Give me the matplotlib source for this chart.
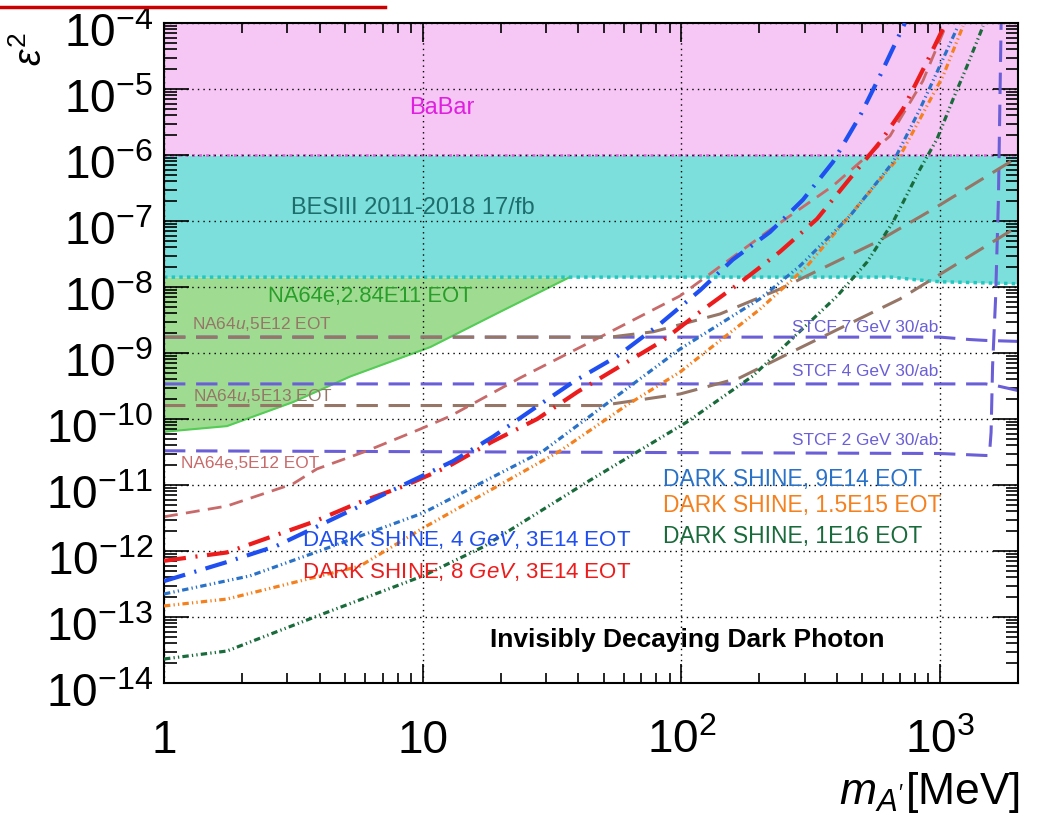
import matplotlib
matplotlib.use('Agg')
import matplotlib.pyplot as plt
from matplotlib.ticker import FixedLocator, LogLocator, NullFormatter, FixedFormatter
from matplotlib.lines import Line2D
from matplotlib.transforms import ScaledTranslation

plt.rcParams['font.family'] = ['Liberation Sans', 'DejaVu Sans']
plt.rcParams['mathtext.fontset'] = 'custom'
plt.rcParams['mathtext.rm'] = 'Liberation Sans'
plt.rcParams['mathtext.it'] = 'Liberation Sans:italic'
plt.rcParams['mathtext.bf'] = 'Liberation Sans:bold'

# ---------------- data ----------------
babar_mass = [1, 2000]
babar_low = [1e-6, 1e-6]
babar_high = [1e-4, 1e-4]

besiii_mass = [1, 650, 800, 1000, 2000]
besiii_low = [1.41e-8, 1.41e-8, 1.29e-8, 1.2e-8, 1.12e-8]
besiii_high = [1e-6, 1e-6, 1e-6, 1e-6, 1e-6]

na64e_284_mass = [1, 1.75, 3.15, 5.24, 10.7, 19.9, 37]
na64e_284_eps2 = [6.4e-11, 7.8e-11, 1.8e-10, 4.4e-10, 1.23e-9, 4.2e-9, 1.41e-8]
na64e_284_top = [1.41e-8, 1.41e-8, 1.41e-8, 1.41e-8, 1.41e-8, 1.41e-8, 1.41e-8]

na64e_5e12_mass = [1, 1.75, 3.15, 3.9, 6.1, 9.75, 12.8, 23.8, 48.6, 98.6, 214, 385, 640, 857, 1040]
na64e_5e12_eps2 = [3.3e-12, 4.8e-12, 1.04e-11, 1.75e-11, 3.3e-11, 7.0e-11, 1.11e-10, 4.2e-10,
                   1.75e-9, 7.3e-9, 6.8e-8, 3.4e-7, 1.94e-6, 1.32e-5, 8.1e-5]

na64mu_5e12_mass = [1, 53, 78, 141, 240, 568, 936, 2000]
na64mu_5e12_eps2 = [1.74e-9, 1.74e-9, 2.1e-9, 3.9e-9, 9.3e-9, 4.8e-8, 1.5e-7, 9.3e-7]

na64mu_5e13_mass = [1, 49, 99, 168, 288, 700, 2000]
na64mu_5e13_eps2 = [1.6e-10, 1.6e-10, 2.4e-10, 4.2e-10, 1.2e-9, 6.6e-9, 8.3e-8]

stcf7_mass = [1, 1000, 1300, 1500, 2000]
stcf7_eps2 = [1.74e-9, 1.74e-9, 1.6e-9, 1.55e-9, 1.5e-9]

stcf4_mass = [1, 1500, 1650, 2000]
stcf4_eps2 = [3.4e-10, 3.4e-10, 3.2e-10, 2.7e-10]

stcf2_mass = [1, 1000, 1500, 1550, 1574, 1595, 1638, 1680, 1720, 1740]
stcf2_eps2 = [3.3e-11, 3.0e-11, 2.8e-11, 2.8e-11, 6.3e-11, 6.3e-10, 6.6e-9, 2.1e-7, 8.9e-5, 3e-4]

ds4_mass = [1, 1.75, 2.73, 5.72, 8.93, 13.1, 18.7, 26.7, 38.8, 56.4, 82.6, 118, 158, 220, 295, 385, 490, 586, 731]
ds4_eps2 = [3.5e-13, 6.8e-13, 1.2e-12, 4.8e-12, 1.12e-11, 2.3e-11, 5.4e-11, 1.41e-10, 3.8e-10,
            8.9e-10, 2.75e-9, 8.9e-9, 2.6e-8, 6.8e-8, 2.1e-7, 7.8e-7, 3.9e-6, 1.6e-5, 1e-4]

ds8_mass = [1, 1.75, 2.57, 3.77, 5.72, 8.39, 12.4, 18.5, 27.7, 39.8, 57.9, 84.1, 118, 168, 240,
            334, 448, 587, 719, 890, 1045]
ds8_eps2 = [7.1e-13, 9.5e-13, 1.62e-12, 2.75e-12, 5.5e-12, 9.5e-12, 1.86e-11, 4.5e-11, 1.0e-10,
            2.6e-10, 6.3e-10, 1.51e-9, 4.2e-9, 1.15e-8, 3.4e-8, 1.07e-7, 4.4e-7, 1.58e-6, 5.0e-6,
            2.6e-5, 9.5e-5]

ds9e14_mass = [1, 2.15, 3.9, 10.03, 29.2, 98.8, 201, 287, 448, 658, 836, 973, 1173]
ds9e14_eps2 = [2.23e-13, 4.2e-13, 9.7e-13, 3.77e-12, 3.27e-11, 1.15e-9, 6.6e-9, 2.08e-8,
               1.19e-7, 7.8e-7, 4.98e-6, 1.81e-5, 9.0e-5]

ds15e15_mass = [1, 1.75, 5.72, 10.03, 33.9, 61.6, 98.8, 201, 306, 700, 1026, 1226]
ds15e15_eps2 = [1.47e-13, 1.87e-13, 5.9e-13, 2.23e-12, 3.27e-11, 1.63e-10, 5.15e-10, 4.6e-9,
                2.08e-8, 9.7e-7, 1.57e-5, 9.0e-5]

ds1e16_mass = [1, 1.75, 3.9, 10.03, 17.1, 43.2, 105, 189, 400, 522, 658, 836, 973, 1122, 1271, 1466]
ds1e16_eps2 = [2.31e-14, 3.05e-14, 1.03e-13, 4.2e-13, 1.15e-12, 1.11e-11, 9.0e-11, 4.5e-10,
               7.3e-9, 2.39e-8, 9.7e-8, 6.1e-7, 1.75e-6, 7.0e-6, 2.23e-5, 9.0e-5]

x_ticks = [1, 10, 100, 1000]
x_ticklabels = ['1', '10', '$10^{2}$', '$10^{3}$']
y_ticks = [1e-14, 1e-13, 1e-12, 1e-11, 1e-10, 1e-9, 1e-8, 1e-7, 1e-6, 1e-5, 1e-4]
y_ticklabels = ['$10^{-14}$', '$10^{-13}$', '$10^{-12}$', '$10^{-11}$', '$10^{-10}$', '$10^{-9}$',
                '$10^{-8}$', '$10^{-7}$', '$10^{-6}$', '$10^{-5}$', '$10^{-4}$']

# ---------------- colours ----------------
c_babar_fill = '#f6c6f4'
c_besiii_fill = '#7ddfdb'
c_na64_fill = '#9fdc92'
c_stcf = '#6a5fd6'
c_na64mu = '#957667'
c_na64e = '#c86a6a'
c_ds4 = '#1f4ff0'
c_ds8 = '#ec1c1c'
c_ds9 = '#2a72c8'
c_ds15 = '#f5801e'
c_ds16 = '#1a6b3c'

fig = plt.figure(figsize=(10.43, 8.2), dpi=100)
ax = fig.add_axes([164 / 1043, 1 - 684 / 820, 854 / 1043, 660 / 820])
ax.set_xscale('log')
ax.set_yscale('log')
ax.set_xlim(1, 2000)
ax.set_ylim(1e-14, 1e-4)

# filled regions
ax.fill_between(babar_mass, babar_low, babar_high, color=c_babar_fill, lw=0, zorder=0.2)
ax.fill_between(besiii_mass, besiii_low, besiii_high, color=c_besiii_fill, lw=0, zorder=0.2)
ax.fill_between(na64e_284_mass, na64e_284_eps2, na64e_284_top, color=c_na64_fill, lw=0, zorder=0.2)
ax.plot(na64e_284_mass, na64e_284_eps2, color='#55cc55', lw=1.5, zorder=0.3)
ax.plot(babar_mass, babar_low, color='#dd66dd', lw=2, ls=(0, (1, 1.5)), zorder=0.3)
ax.plot(besiii_mass, besiii_low, color='#22c8c0', lw=2.5, ls=(0, (1, 1.2)), zorder=0.3)

# lines
dash_long = (7, 3.5)
dash_dsdot = (2.0, 1.0, 0.4, 1.0, 0.4, 1.0)
dash_dsd = (5.3, 2.3, 0.5, 2.3)
ax.plot(stcf7_mass, stcf7_eps2, color=c_stcf, lw=2.2, dashes=dash_long, zorder=2)
ax.plot(na64mu_5e12_mass, na64mu_5e12_eps2, color=c_na64mu, lw=2.2, dashes=dash_long, zorder=2.1)
ax.plot(stcf4_mass, stcf4_eps2, color=c_stcf, lw=2.2, dashes=dash_long, zorder=2)
ax.plot(stcf2_mass, stcf2_eps2, color=c_stcf, lw=2.2, dashes=dash_long, zorder=2)
ax.plot(na64mu_5e13_mass, na64mu_5e13_eps2, color=c_na64mu, lw=2.2, dashes=dash_long, zorder=2)
ax.plot(na64e_5e12_mass, na64e_5e12_eps2, color=c_na64e, lw=2.0, dashes=(5, 3), zorder=2)

ax.plot(ds1e16_mass, ds1e16_eps2, color=c_ds16, lw=2.3, dashes=dash_dsdot, zorder=3)
ax.plot(ds15e15_mass, ds15e15_eps2, color=c_ds15, lw=2.3, dashes=dash_dsdot, zorder=3)
ax.plot(ds9e14_mass, ds9e14_eps2, color=c_ds9, lw=2.3, dashes=dash_dsdot, zorder=3)
ax.plot(ds8_mass, ds8_eps2, color=c_ds8, lw=3, dashes=dash_dsd, zorder=3.1)
ax.plot(ds4_mass, ds4_eps2, color=c_ds4, lw=3, dashes=dash_dsd, zorder=3.2)

# axes styling
ax.set_axisbelow(True)
ax.grid(True, which='major', color='black', lw=1.0, ls=(0, (1, 3)))
ax.xaxis.set_major_locator(FixedLocator(x_ticks))
ax.xaxis.set_major_formatter(FixedFormatter(x_ticklabels))
ax.xaxis.set_minor_locator(LogLocator(base=10, subs=[2, 3, 4, 5, 6, 7, 8, 9], numticks=20))
ax.xaxis.set_minor_formatter(NullFormatter())
ax.yaxis.set_major_locator(FixedLocator(y_ticks))
ax.yaxis.set_major_formatter(FixedFormatter(y_ticklabels))
ax.yaxis.set_minor_locator(LogLocator(base=10, subs=[2, 3, 4, 5, 6, 7, 8, 9], numticks=20))
ax.yaxis.set_minor_formatter(NullFormatter())
ax.tick_params(which='both', direction='in', top=True, right=True, width=1.2, colors='black')
ax.tick_params(axis='y', which='major', length=18, labelsize=33, pad=8)
ax.tick_params(axis='y', which='minor', length=9)
ax.tick_params(axis='x', which='major', length=14, labelsize=33, pad=50)
ax.tick_params(axis='x', which='minor', length=7)
for lab in ax.get_xticklabels():
    lab.set_va('baseline')
shift = ScaledTranslation(0, -6 / 100, fig.dpi_scale_trans)
for lab in ax.get_yticklabels():
    lab.set_transform(lab.get_transform() + shift)
for sp in ax.spines.values():
    sp.set_linewidth(1.5)

ax.set_xlabel(r"$m_{A'}$[MeV]", fontsize=32, ha='right')
ax.xaxis.set_label_coords(1.002, -0.13)
ax.set_ylabel(r'$\varepsilon^{2}$', fontsize=27, rotation=90, ha='center', va='center')
ax.yaxis.set_label_coords(-0.155, 0.962)

T = ax.transAxes
ax.text(0.3255, 0.8727, 'BaBar', color='#e020e0', fontsize=17, ha='center', va='center', transform=T)
ax.text(0.2916, 0.7212, 'BESIII 2011-2018 17/fb', color='#1d6d6d', fontsize=17, ha='center', va='center', transform=T)
ax.text(0.1218, 0.5864, 'NA64e,2.84E11 EOT', color='#2a9e2a', fontsize=15.8, ha='left', va='center', transform=T)
ax.text(0.0328, 0.5455, r'NA64$\mathit{u}$,5E12 EOT', color=c_na64mu, fontsize=12.4, ha='left', va='center', transform=T)
ax.text(0.034, 0.4364, r'NA64$\mathit{u}$,5E13 EOT', color=c_na64mu, fontsize=12.4, ha='left', va='center', transform=T)
ax.text(0.0199, 0.3348, 'NA64e,5E12 EOT', color=c_na64e, fontsize=12.4, ha='left', va='center', transform=T)
ax.text(0.7354, 0.5409, 'STCF 7 GeV 30/ab', color=c_stcf, fontsize=12.4, ha='left', va='center', transform=T)
ax.text(0.7354, 0.4742, 'STCF 4 GeV 30/ab', color=c_stcf, fontsize=12.4, ha='left', va='center', transform=T)
ax.text(0.7354, 0.3682, 'STCF 2 GeV 30/ab', color=c_stcf, fontsize=12.4, ha='left', va='center', transform=T)
ax.text(0.5843, 0.3106, 'DARK SHINE, 9E14 EOT', color=c_ds9, fontsize=16.5, ha='left', va='center', transform=T)
ax.text(0.5843, 0.2697, 'DARK SHINE, 1.5E15 EOT', color=c_ds15, fontsize=16.5, ha='left', va='center', transform=T)
ax.text(0.5843, 0.2242, 'DARK SHINE, 1E16 EOT', color=c_ds16, fontsize=16.5, ha='left', va='center', transform=T)
ax.text(0.1616, 0.2182, r'DARK SHINE, 4 $\mathit{GeV}$, 3E14 EOT', color=c_ds4, fontsize=16, ha='left', va='center', transform=T)
ax.text(0.1616, 0.1697, r'DARK SHINE, 8 $\mathit{GeV}$, 3E14 EOT', color=c_ds8, fontsize=16, ha='left', va='center', transform=T)
ax.text(0.3817, 0.0667, 'Invisibly Decaying Dark Photon', color='black', fontsize=19, fontweight='bold',
        ha='left', va='center', transform=T)

fig.add_artist(Line2D([0, 385 / 1043], [1 - 8 / 820, 1 - 8 / 820], color='#cc0000', lw=2.5))

fig.savefig('out.png', dpi=100)
